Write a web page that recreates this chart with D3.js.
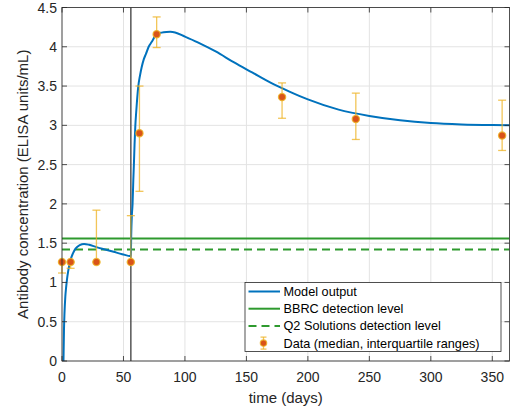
<!DOCTYPE html>
<html>
<head>
<meta charset="utf-8">
<script src="https://cdn.jsdelivr.net/npm/d3@7"></script>
<style>
  html, body { margin: 0; padding: 0; background: #fff; }
  svg { display: block; font-family: "Liberation Sans", Arial, Helvetica, sans-serif; }
</style>
</head>
<body>
<svg id="chart" width="519" height="412"></svg>
<script>
// Model output: antibody concentration over time
const modelDays = [1.2, 1.6, 2.0, 2.7, 3.3, 4, 5, 5.7, 7, 8.9, 11, 14.4, 18, 22, 28, 35, 42, 49, 56,
  56.3, 56.8, 57.4, 58, 58.5, 59, 59.6, 60.5, 62, 63.5, 64.8, 66.5, 68.3, 70.5, 72.9, 77, 81, 85, 88, 92,
  100, 110, 125, 140, 155, 170, 185, 200, 225, 250, 275, 300, 325, 350, 364];
const modelValues = [0, 0.39, 0.6, 0.82, 0.93, 1.03, 1.14, 1.2, 1.29, 1.37, 1.43, 1.476, 1.49, 1.48, 1.45, 1.42, 1.39, 1.36, 1.335,
  1.6, 1.85, 2.0, 2.3, 2.51, 2.75, 2.98, 3.2, 3.49, 3.64, 3.74, 3.84, 3.91, 4.0, 4.06, 4.16, 4.18, 4.188, 4.19, 4.183,
  4.13, 4.06, 3.94, 3.80, 3.67, 3.54, 3.43, 3.33, 3.20, 3.12, 3.065, 3.03, 3.012, 3.003, 3.0];

// Measured data: median with interquartile range
const dataDays   = [0, 7, 28, 56, 63, 77, 179, 239, 358];
const dataMedian = [1.26, 1.26, 1.26, 1.26, 2.9, 4.16, 3.36, 3.08, 2.87];
const dataLower  = [1.12, 1.18, 1.26, 1.26, 2.16, 3.99, 3.09, 2.82, 2.68];
const dataUpper  = [1.26, 1.26, 1.92, 1.85, 3.5, 4.38, 3.54, 3.41, 3.32];

// Detection levels and dose day
const bbrcLevel = 1.56;
const q2Level = 1.42;
const doseDay = 56;

const xTicks = [0, 50, 100, 150, 200, 250, 300, 350];
const yTicks = [0, 0.5, 1, 1.5, 2, 2.5, 3, 3.5, 4, 4.5];
const legendLabels = ["Model output", "BBRC detection level", "Q2 Solutions detection level", "Data (median, interquartile ranges)"];

const pLeft = 62, pRight = 509.5, pTop = 7.5, pBottom = 361;
const x = d3.scaleLinear().domain([0, 364]).range([pLeft, pRight]);
const y = d3.scaleLinear().domain([0, 4.5]).range([pBottom, pTop]);

const svg = d3.select("#chart");
const axisColor = "#262626";
const blue = "#0072BD", green = "#2e9a2e", errColor = "#EDB120", dotColor = "#D95319";

// grid
svg.append("g").selectAll("line").data(xTicks).join("line")
  .attr("x1", d => x(d)).attr("x2", d => x(d)).attr("y1", pTop).attr("y2", pBottom)
  .attr("stroke", "#e3e3e3").attr("stroke-width", 1);
svg.append("g").selectAll("line").data(yTicks).join("line")
  .attr("x1", pLeft).attr("x2", pRight).attr("y1", d => y(d)).attr("y2", d => y(d))
  .attr("stroke", "#e3e3e3").attr("stroke-width", 1);

const plot = svg.append("g");
plot.append("clipPath").attr("id", "clip").append("rect")
  .attr("x", pLeft).attr("y", pTop).attr("width", pRight - pLeft).attr("height", pBottom - pTop);
const clipped = plot.append("g").attr("clip-path", "url(#clip)");

// detection levels
clipped.append("line").attr("x1", pLeft).attr("x2", pRight).attr("y1", y(bbrcLevel)).attr("y2", y(bbrcLevel))
  .attr("stroke", green).attr("stroke-width", 2);
clipped.append("line").attr("x1", pLeft).attr("x2", pRight).attr("y1", y(q2Level)).attr("y2", y(q2Level))
  .attr("stroke", green).attr("stroke-width", 2).attr("stroke-dasharray", "8,5");

// dose day marker
clipped.append("line").attr("x1", x(doseDay)).attr("x2", x(doseDay)).attr("y1", pTop).attr("y2", pBottom)
  .attr("stroke", "#555").attr("stroke-width", 1.5);

// model curve
const line = d3.line().x((d, i) => x(modelDays[i])).y(d => y(d)).curve(d3.curveMonotoneX);
clipped.append("path").datum(modelValues).attr("d", line)
  .attr("fill", "none").attr("stroke", blue).attr("stroke-width", 2);

// error bars and markers (drawn unclipped so the day-0 marker shows fully)
const eb = svg.append("g");
dataDays.forEach((d, i) => {
  const cx = x(d);
  const g = eb.append("g").attr("stroke", errColor).attr("stroke-width", 1.3).attr("stroke-opacity", 0.75);
  g.append("line").attr("x1", cx).attr("x2", cx).attr("y1", y(dataLower[i])).attr("y2", y(dataUpper[i]));
  [dataLower[i], dataUpper[i]].forEach(v => {
    g.append("line").attr("x1", cx - 4).attr("x2", cx + 4).attr("y1", y(v)).attr("y2", y(v));
  });
});
eb.selectAll("circle").data(dataMedian).join("circle")
  .attr("cx", (d, i) => x(dataDays[i])).attr("cy", d => y(d)).attr("r", 3.6)
  .attr("fill", dotColor).attr("stroke", errColor).attr("stroke-width", 1.3).attr("stroke-opacity", 0.8);

// axes box with inward ticks on all sides
const tickLen = 5;
const axes = svg.append("g").attr("stroke", axisColor).attr("stroke-width", 0.8);
axes.append("rect").attr("x", pLeft).attr("y", pTop).attr("width", pRight - pLeft).attr("height", pBottom - pTop).attr("fill", "none");
xTicks.forEach(t => {
  axes.append("line").attr("x1", x(t)).attr("x2", x(t)).attr("y1", pBottom).attr("y2", pBottom - tickLen);
  axes.append("line").attr("x1", x(t)).attr("x2", x(t)).attr("y1", pTop).attr("y2", pTop + tickLen);
});
yTicks.forEach(t => {
  axes.append("line").attr("x1", pLeft).attr("x2", pLeft + tickLen).attr("y1", y(t)).attr("y2", y(t));
  axes.append("line").attr("x1", pRight).attr("x2", pRight - tickLen).attr("y1", y(t)).attr("y2", y(t));
});

// tick labels
svg.append("g").selectAll("text").data(xTicks).join("text")
  .attr("x", d => x(d)).attr("y", 382).attr("text-anchor", "middle")
  .attr("font-size", 14).attr("fill", axisColor).text(d => d);
svg.append("g").selectAll("text").data(yTicks).join("text")
  .attr("x", pLeft - 5).attr("y", d => y(d) + 5).attr("text-anchor", "end")
  .attr("font-size", 14).attr("fill", axisColor).text(d => d);

// axis titles
svg.append("text").attr("x", (pLeft + pRight) / 2).attr("y", 403).attr("text-anchor", "middle")
  .attr("font-size", 15).attr("fill", axisColor).text("time (days)");
svg.append("text").attr("transform", `translate(28,${(pTop + pBottom) / 2}) rotate(-90)`)
  .attr("text-anchor", "middle").attr("font-size", 15).attr("fill", axisColor)
  .text("Antibody concentration (ELISA units/mL)");

// legend
const lg = svg.append("g");
lg.append("rect").attr("x", 245).attr("y", 282.5).attr("width", 256).attr("height", 69)
  .attr("fill", "#fff").attr("stroke", axisColor).attr("stroke-width", 0.8);
const rowY = [291.5, 308.7, 325.9, 343.1];
lg.append("line").attr("x1", 248.5).attr("x2", 280).attr("y1", rowY[0]).attr("y2", rowY[0]).attr("stroke", blue).attr("stroke-width", 2);
lg.append("line").attr("x1", 248.5).attr("x2", 280).attr("y1", rowY[1]).attr("y2", rowY[1]).attr("stroke", green).attr("stroke-width", 2);
lg.append("line").attr("x1", 248.5).attr("x2", 280).attr("y1", rowY[2]).attr("y2", rowY[2]).attr("stroke", green).attr("stroke-width", 2).attr("stroke-dasharray", "8,5");
const lm = lg.append("g").attr("stroke", errColor).attr("stroke-width", 1.3).attr("stroke-opacity", 0.75);
lm.append("line").attr("x1", 263.5).attr("x2", 263.5).attr("y1", rowY[3] - 6).attr("y2", rowY[3] + 6);
lm.append("line").attr("x1", 260.5).attr("x2", 266.5).attr("y1", rowY[3] - 6).attr("y2", rowY[3] - 6);
lm.append("line").attr("x1", 260.5).attr("x2", 266.5).attr("y1", rowY[3] + 6).attr("y2", rowY[3] + 6);
lg.append("circle").attr("cx", 263.5).attr("cy", rowY[3]).attr("r", 3.2)
  .attr("fill", dotColor).attr("stroke", errColor).attr("stroke-width", 1.2).attr("stroke-opacity", 0.8);
lg.selectAll("text").data(legendLabels).join("text")
  .attr("x", 283.5).attr("y", (d, i) => rowY[i] + 4.5)
  .attr("font-size", 12.7).attr("fill", "#000").text(d => d);
</script>
</body>
</html>
